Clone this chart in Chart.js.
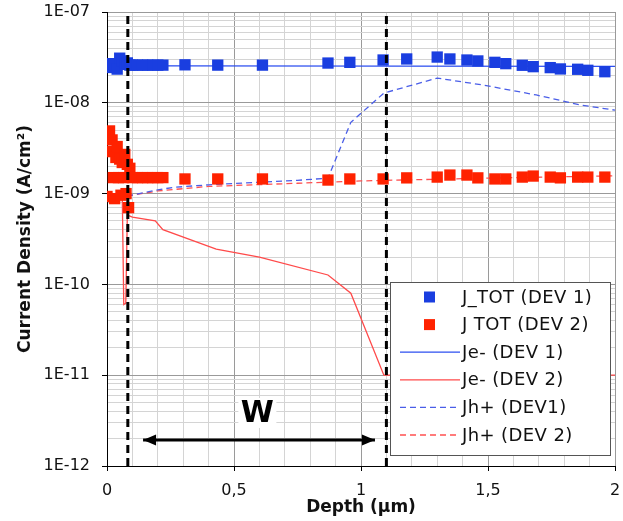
<!DOCTYPE html>
<html lang="en">
<head>
  <meta charset="UTF-8" />
  <title>Current density vs depth</title>
  <script src="https://cdn.jsdelivr.net/npm/chart.js"></script>
  <style>
    body { margin: 0; background: #fff; }
    #wrap { width: 623px; height: 521px; }
  </style>
</head>
<body>
  <div id="wrap"><canvas id="jChart" width="623" height="521"></canvas></div>

  <script>
    // J_TOT (DEV 1) - blue squares
    const jTot1X = [0, 0.01, 0.02, 0.03, 0.04, 0.05, 0.06, 0.07, 0.08, 0.09, 0.1, 0.12, 0.14, 0.16, 0.18, 0.2, 0.22,
      0.307, 0.436, 0.612, 0.87, 0.956, 1.087, 1.18, 1.30, 1.35, 1.417, 1.46, 1.527, 1.57, 1.635, 1.678, 1.745, 1.785, 1.853, 1.893, 1.96]
    const jTot1Y = [2.6e-8, 2.45e-8, 2.7e-8, 2.5e-8, 2.35e-8, 3.1e-8, 2.9e-8, 2.65e-8, 2.75e-8, 2.6e-8, 2.6e-8, 2.6e-8, 2.6e-8, 2.6e-8, 2.6e-8, 2.6e-8, 2.6e-8,
      2.62e-8, 2.6e-8, 2.6e-8, 2.74e-8, 2.79e-8, 2.96e-8, 3.04e-8, 3.19e-8, 3.04e-8, 2.96e-8, 2.89e-8, 2.79e-8, 2.7e-8, 2.59e-8, 2.5e-8, 2.44e-8, 2.36e-8, 2.34e-8, 2.28e-8, 2.2e-8]

    // J TOT (DEV 2) - red squares
    const jTot2X = [0, 0.005, 0.01, 0.015, 0.02, 0.025, 0.03, 0.035, 0.04, 0.045, 0.05, 0.055, 0.06, 0.065, 0.07, 0.075, 0.08, 0.085, 0.09,
      0.1, 0.12, 0.14, 0.16, 0.18, 0.2, 0.22,
      0.307, 0.436, 0.612, 0.87, 0.956, 1.087, 1.18, 1.30, 1.35, 1.417, 1.46, 1.527, 1.57, 1.635, 1.678, 1.745, 1.785, 1.853, 1.893, 1.96]
    const jTot2Y = [9.3e-10, 4.6e-9, 4.9e-9, 2.9e-9, 3.9e-9, 1.5e-9, 8.8e-10, 2.5e-9, 3.3e-9, 1.5e-9, 2.4e-9, 9.6e-10, 2.2e-9, 1.5e-9, 2.7e-9, 1.0e-9, 2.1e-9, 7.0e-10, 1.9e-9,
      1.5e-9, 1.5e-9, 1.5e-9, 1.5e-9, 1.5e-9, 1.5e-9, 1.5e-9,
      1.45e-9, 1.45e-9, 1.45e-9, 1.41e-9, 1.45e-9, 1.45e-9, 1.49e-9, 1.52e-9, 1.6e-9, 1.6e-9, 1.49e-9, 1.45e-9, 1.45e-9, 1.52e-9, 1.56e-9, 1.52e-9, 1.49e-9, 1.52e-9, 1.52e-9, 1.52e-9]

    // Je- (DEV 1)
    const je1X = [0, 0.3, 2]
    const je1Y = [2.56e-8, 2.55e-8, 2.52e-8]

    // Je- (DEV 2)
    const je2X = [0, 0.06, 0.066, 0.074, 0.08, 0.1, 0.19, 0.22, 0.43, 0.6, 0.87, 0.96, 1.09, 2.0]
    const je2Y = [1.0e-9, 1.0e-9, 6.0e-11, 6.2e-11, 5.8e-10, 5.5e-10, 5.0e-10, 4.0e-10, 2.45e-10, 2.0e-10, 1.27e-10, 8.0e-11, 1.0e-11, 1.0e-11]

    // Jh+ (DEV1)
    const jh1X = [0, 0.09, 0.2, 0.26, 0.4, 0.75, 0.87, 0.96, 1.09, 1.3, 1.48, 1.69, 1.86, 2.0]
    const jh1Y = [9.5e-10, 9.5e-10, 1.1e-9, 1.17e-9, 1.25e-9, 1.4e-9, 1.48e-9, 6.1e-9, 1.28e-8, 1.87e-8, 1.57e-8, 1.22e-8, 9.5e-9, 8.3e-9]

    // Jh+ (DEV 2)
    const jh2X = [0, 0.09, 0.2, 0.4, 0.75, 1.0, 1.5, 2.0]
    const jh2Y = [9.5e-10, 9.5e-10, 1.07e-9, 1.2e-9, 1.3e-9, 1.38e-9, 1.48e-9, 1.57e-9]

    // depletion edges and W arrow
    const edgeX = [0.082, 1.1]
    const arrowX = [0.142, 1.055]
    const arrowY = 1.93e-12
    const wLabel = { text: 'W', x: 0.592, y: 3.84e-12 }

    // axis ticks
    const decades = [-12, -11, -10, -9, -8, -7]
    const mantissas = [1, 2, 3, 4, 5, 6, 7, 8, 9]
    const yTicks = []
    decades.forEach(e => mantissas.forEach(m => { if (e < -7 || m === 1) yTicks.push(m * Math.pow(10, e)) }))

    const pts = (xs, ys) => xs.map((x, i) => ({ x: x, y: ys[i] }))
    const isDecade = v => Math.abs(Math.log10(v) - Math.round(Math.log10(v))) < 1e-6
    const isHalf = v => Math.abs(v * 2 - Math.round(v * 2)) < 1e-6

    const overlay = {
      id: 'overlay',
      afterDatasetsDraw(chart) {
        const { ctx, chartArea } = chart
        const xs = chart.scales.x, ys = chart.scales.y
        ctx.save()

        // arrow heads
        const ay = ys.getPixelForValue(arrowY)
        const l = xs.getPixelForValue(arrowX[0]), r = xs.getPixelForValue(arrowX[1])
        ctx.fillStyle = '#000'
        ctx.beginPath()
        ctx.moveTo(l, ay); ctx.lineTo(l + 13, ay - 5.5); ctx.lineTo(l + 13, ay + 5.5); ctx.closePath()
        ctx.moveTo(r, ay); ctx.lineTo(r - 13, ay - 5.5); ctx.lineTo(r - 13, ay + 5.5); ctx.closePath()
        ctx.fill()

        // W label
        const wx = xs.getPixelForValue(wLabel.x), wy = ys.getPixelForValue(wLabel.y)
        ctx.fillStyle = '#fff'
        ctx.fillRect(wx - 19, wy - 15, 38, 30)
        ctx.fillStyle = '#000'
        ctx.font = 'bold 30px "DejaVu Sans"'
        ctx.textAlign = 'center'
        ctx.textBaseline = 'middle'
        ctx.fillText(wLabel.text, wx, wy + 1)

        // legend box
        const bw = 220, bh = 173
        const bx = chartArea.right - 5 - bw, by = chartArea.bottom - 11 - bh
        ctx.fillStyle = '#fff'
        ctx.fillRect(bx, by, bw, bh)
        ctx.strokeStyle = '#555'
        ctx.lineWidth = 1
        ctx.strokeRect(bx + 0.5, by + 0.5, bw, bh)

        const items = chart.data.datasets.filter(d => d.label)
        ctx.font = '18px "DejaVu Sans"'
        ctx.letterSpacing = '0.4px'
        ctx.textAlign = 'left'
        items.forEach((d, i) => {
          const cy = by + 15 + i * 27.6
          if (d.showLine) {
            ctx.strokeStyle = d.borderColor
            ctx.lineWidth = d.borderWidth
            ctx.setLineDash(d.borderDash || [])
            ctx.beginPath()
            ctx.moveTo(bx + 10, cy); ctx.lineTo(bx + 70, cy)
            ctx.stroke()
            ctx.setLineDash([])
          } else {
            ctx.fillStyle = d.backgroundColor
            ctx.fillRect(bx + 34, cy - 5.5, 11, 11)
          }
          ctx.fillStyle = '#111'
          ctx.fillText(d.label, bx + 72, cy + 1)
        })
        ctx.restore()
      }
    }

    const edgeLine = x => ({
      data: pts([x, x], [1e-12, 1e-7]), showLine: true, pointRadius: 0,
      borderColor: '#000', borderWidth: 3, borderDash: [8, 5]
    })

    new Chart(document.getElementById('jChart'), {
      type: 'scatter',
      data: {
        datasets: [
          edgeLine(edgeX[0]),
          edgeLine(edgeX[1]),
          { data: pts(arrowX, [arrowY, arrowY]), showLine: true, pointRadius: 0, borderColor: '#000', borderWidth: 3 },
          { label: 'J_TOT (DEV 1)', data: pts(jTot1X, jTot1Y), showLine: false, pointStyle: 'rect',
            pointRadius: 8, borderWidth: 0, backgroundColor: '#1a3ee0', borderColor: '#1a3ee0' },
          { label: 'J TOT (DEV 2)', data: pts(jTot2X, jTot2Y), showLine: false, pointStyle: 'rect',
            pointRadius: 8, borderWidth: 0, backgroundColor: '#ff2200', borderColor: '#ff2200' },
          { label: 'Je- (DEV 1)', data: pts(je1X, je1Y), showLine: true, pointRadius: 0, borderColor: '#2d4ff0', borderWidth: 1.3 },
          { label: 'Je- (DEV 2)', data: pts(je2X, je2Y), showLine: true, pointRadius: 0, borderColor: '#ff4a4a', borderWidth: 1.3 },
          { label: 'Jh+ (DEV1)', data: pts(jh1X, jh1Y), showLine: true, pointRadius: 0, borderColor: '#4a5ee8', borderWidth: 1.3, borderDash: [6, 4] },
          { label: 'Jh+ (DEV 2)', data: pts(jh2X, jh2Y), showLine: true, pointRadius: 0, borderColor: '#ff5050', borderWidth: 1.3, borderDash: [6, 4] }
        ]
      },
      options: {
        responsive: false,
        animation: false,
        layout: { padding: { top: 12, right: 6, left: 0, bottom: 0 } },
        plugins: { legend: { display: false }, tooltip: { enabled: false } },
        font: { family: '"DejaVu Sans"' },
        scales: {
          x: {
            type: 'linear', min: 0, max: 2,
            afterFit: s => { s.height = 55; s.paddingLeft = 0; s.paddingRight = 0 },
            ticks: {
              stepSize: 0.1, autoSkip: false, maxRotation: 0, padding: 10, color: '#111',
              font: { family: '"DejaVu Sans"', size: 16 },
              callback: v => isHalf(v) ? String(Math.round(v * 2) / 2).replace('.', ',') : ''
            },
            grid: {
              color: c => isHalf(c.tick.value) ? '#9a9a9a' : '#d4d4d4',
              tickColor: c => isHalf(c.tick.value) ? '#000' : 'rgba(0,0,0,0)',
              tickLength: 5
            },
            border: { color: '#000', width: 1 },
            title: { display: true, text: 'Depth (µm)', color: '#111', padding: 3,
              font: { family: '"DejaVu Sans"', size: 17, weight: 'bold' } }
          },
          y: {
            type: 'logarithmic', min: 1e-12, max: 1e-7,
            afterFit: s => { s.width = 107; s.paddingTop = 0; s.paddingBottom = 0 },
            afterBuildTicks: s => { s.ticks = yTicks.map(v => ({ value: v, major: isDecade(v) })) },
            ticks: {
              autoSkip: false, padding: 12, color: '#111',
              font: { family: '"DejaVu Sans"', size: 16 },
              callback: v => isDecade(v) ? '1E-' + String(-Math.round(Math.log10(v))).padStart(2, '0') : ''
            },
            grid: {
              color: c => isDecade(c.tick.value) ? '#9a9a9a' : '#d4d4d4',
              tickColor: c => isDecade(c.tick.value) ? '#000' : 'rgba(0,0,0,0)',
              tickLength: 5
            },
            border: { color: '#000', width: 1 },
            title: { display: true, text: 'Current Density (A/cm²)', color: '#111', padding: 15,
              font: { family: '"DejaVu Sans"', size: 17, weight: 'bold' } }
          }
        }
      },
      plugins: [overlay]
    })
  </script>
</body>
</html>
